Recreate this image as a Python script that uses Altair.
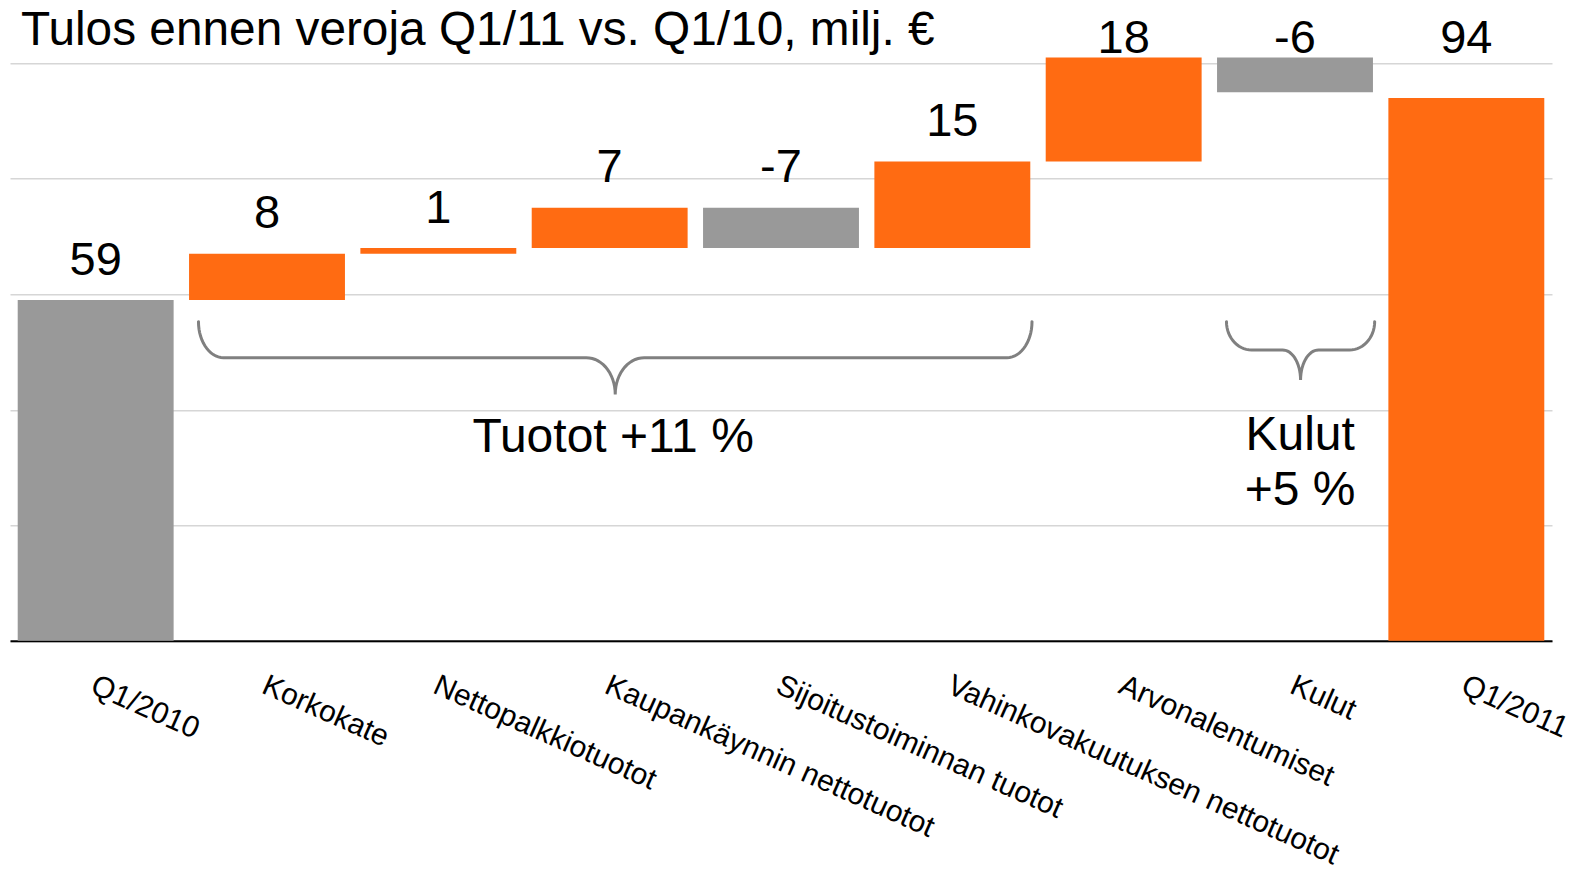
import altair as alt
import numpy as np
import pandas as pd

# ---------------- data ----------------
TITLE = "Tulos ennen veroja Q1/11 vs. Q1/10, milj. €"
CATEGORIES = [
    "Q1/2010",
    "Korkokate",
    "Nettopalkkiotuotot",
    "Kaupankäynnin nettotuotot",
    "Sijoitustoiminnan tuotot",
    "Vahinkovakuutuksen nettotuotot",
    "Arvonalentumiset",
    "Kulut",
    "Q1/2011",
]
VALUES = [59, 8, 1, 7, -7, 15, 18, -6, 94]
IS_TOTAL = [True, False, False, False, False, False, False, False, True]

# braces: (first category index, last category index)
BRACE_SPANS = [(1, 5), (7, 7)]
ANNOT_TEXT = ["Tuotot +11 %", "Kulut", "+5 %"]

FONT = "Liberation Sans"
ORANGE = "#FF6B12"
GRAY = "#999999"

# ---------------- derived table ----------------
rows = []
running = 0
for i, (cat, v, tot) in enumerate(zip(CATEGORIES, VALUES, IS_TOTAL)):
    if tot:
        lo, hi = 0, v
        running = v
        grp = "start" if i == 0 else "end"
    else:
        lo, hi = running, running + v
        running += v
        grp = "up" if v > 0 else "down"
    top = max(lo, hi)
    label_y = top + 4.4 if top < 90 else 101.8
    rows.append(dict(kategoria=cat, lo=min(lo, hi), hi=top, ryhma=grp,
                     teksti=str(v), label_y=label_y))
df = pd.DataFrame(rows)

# brace geometry (x in category-index units, y in value units)
brace_geo = [
    dict(yt=55.26, ym=49.02, yp=42.68, rx=0.146, rx2=0.169),
    dict(yt=55.26, ym=50.36, yp=45.16, rx=0.146, rx2=0.105),
]
pts = []
t = np.linspace(0, np.pi / 2, 16)
for b, ((first, last), g) in enumerate(zip(BRACE_SPANS, brace_geo)):
    xl, xr = first + 0.1, last + 0.965
    xc = (xl + xr) / 2
    yt, ym, yp, rx, rx2 = g["yt"], g["ym"], g["yp"], g["rx"], g["rx2"]
    xs, ys = [], []
    xs += list(xl + rx - rx * np.cos(t)); ys += list(yt - (yt - ym) * np.sin(t))
    xs += list(xc - rx2 + rx2 * np.sin(t)); ys += list(yp + (ym - yp) * np.cos(t))
    tr = t[::-1]
    xs += list(xc + rx2 - rx2 * np.sin(tr)); ys += list(yp + (ym - yp) * np.cos(tr))
    xs += list(xr - rx + rx * np.cos(tr)); ys += list(yt - (yt - ym) * np.sin(tr))
    for k, (x, y) in enumerate(zip(xs, ys)):
        pts.append(dict(brace=b, order=k, x=x, y=y))
brace_df = pd.DataFrame(pts)

annot_df = pd.DataFrame(dict(
    teksti=ANNOT_TEXT,
    x=[3.52, 7.53, 7.53],
    y=[32.74, 33.04, 23.52],
))

# ---------------- chart ----------------
W, H = 1542, 577.5
YSCALE = alt.Scale(domain=[0, 100], nice=False, zero=True)
YAXIS = alt.Axis(values=[0, 20, 40, 60, 80, 100], labels=False, ticks=False,
                 domain=False, title=None, gridColor="#D6D6D6", gridWidth=1.5)
XBAND = alt.Scale(paddingInner=0.09, paddingOuter=0.045)
XAXIS = alt.Axis(title=None, labelAngle=24, labelAlign="left", labelBaseline="top",
                 labelFont=FONT, labelFontSize=30, labelColor="black",
                 labelPadding=29, labelOffset=3, ticks=False, tickSize=0,
                 domainColor="black", domainWidth=2, labelLimit=1000,
                 labelOverlap=False, grid=False)
XLIN = alt.Scale(domain=[0, 9], nice=False, zero=False)

bars = alt.Chart(df).mark_bar().encode(
    x=alt.X("kategoria:N", sort=CATEGORIES, scale=XBAND, axis=XAXIS),
    y=alt.Y("lo:Q", scale=YSCALE, axis=YAXIS),
    y2="hi:Q",
    color=alt.Color("ryhma:N",
                    scale=alt.Scale(domain=["start", "up", "down", "end"],
                                    range=[GRAY, ORANGE, GRAY, ORANGE]),
                    legend=None),
)

vlabels = alt.Chart(df).mark_text(font=FONT, fontSize=47, align="center",
                                  baseline="alphabetic", color="black").encode(
    x=alt.X("kategoria:N", sort=CATEGORIES, scale=XBAND, axis=XAXIS),
    y=alt.Y("label_y:Q", scale=YSCALE, axis=YAXIS),
    text="teksti:N",
)

braces = alt.Chart(brace_df).mark_line(color="#808080", strokeWidth=3,
                                       strokeCap="round").encode(
    x=alt.X("x:Q", scale=XLIN, axis=None),
    y=alt.Y("y:Q", scale=YSCALE, axis=YAXIS),
    detail="brace:N",
    order="order:Q",
)

annots = alt.Chart(annot_df).mark_text(font=FONT, fontSize=48, align="center",
                                       baseline="alphabetic", color="black").encode(
    x=alt.X("x:Q", scale=XLIN, axis=None),
    y=alt.Y("y:Q", scale=YSCALE, axis=YAXIS),
    text="teksti:N",
)

title = alt.Chart(pd.DataFrame(dict(t=[TITLE]))).mark_text(
    font=FONT, fontSize=47.8, align="left", baseline="alphabetic", color="black",
    x=11, y=-18.3).encode(text="t:N")

main = alt.layer(bars, vlabels)
overlay = alt.layer(braces, annots, title)

chart = alt.layer(main, overlay).resolve_scale(x="independent").properties(
    width=W, height=H,
    autosize=alt.AutoSizeParams(type="none"),
    padding={"left": 2, "top": 55.3, "right": 17, "bottom": 227},
    background="white",
).configure_view(stroke=None)

chart.save("out.html", embed_options={"renderer": "svg", "actions": False})
